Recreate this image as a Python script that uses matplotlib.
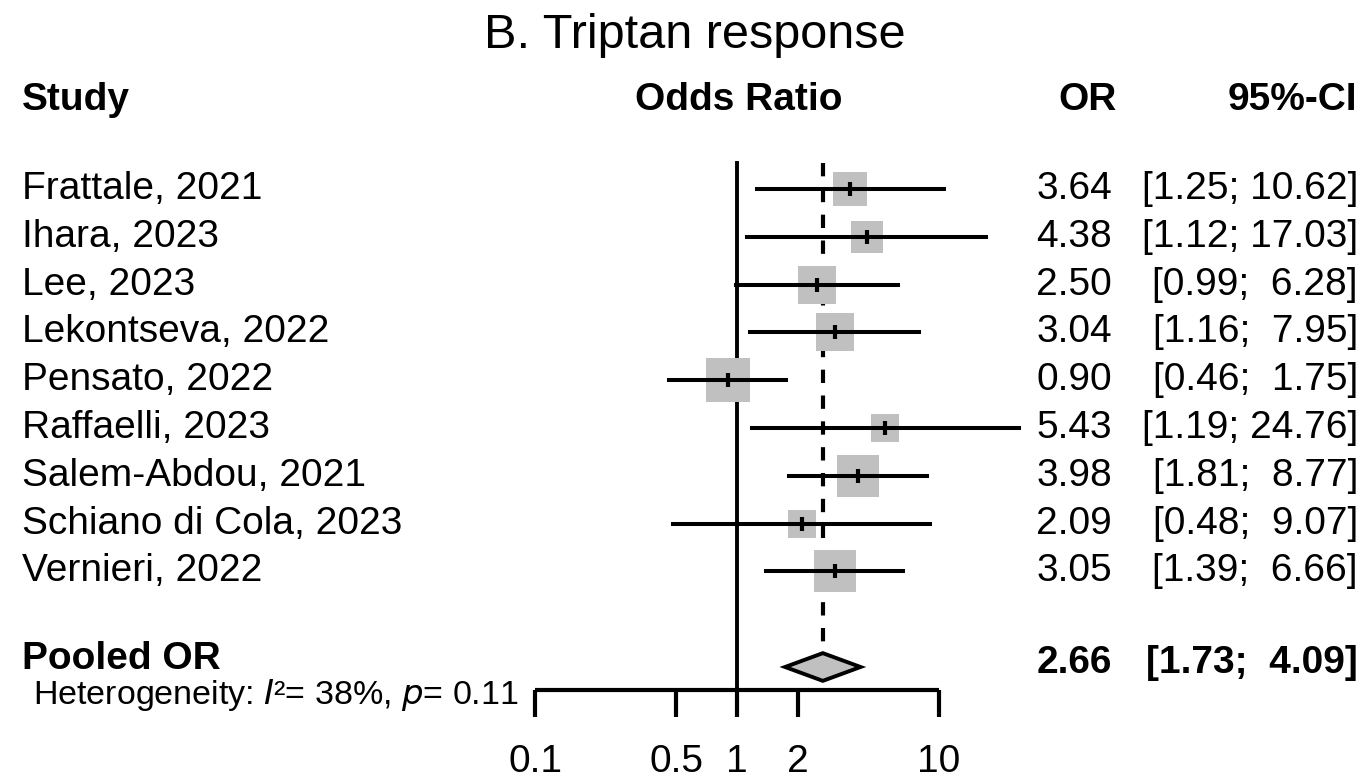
import numpy as np
import matplotlib.pyplot as plt
from matplotlib.patches import Polygon
from matplotlib.transforms import blended_transform_factory

plt.rcParams['font.family'] = ['Liberation Sans', 'DejaVu Sans']

# dane
studies = ["Frattale, 2021", "Ihara, 2023", "Lee, 2023", "Lekontseva, 2022",
           "Pensato, 2022", "Raffaelli, 2023", "Salem-Abdou, 2021",
           "Schiano di Cola, 2023", "Vernieri, 2022"]
odds = [3.64, 4.38, 2.50, 3.04, 0.90, 5.43, 3.98, 2.09, 3.05]
lower = [1.25, 1.12, 0.99, 1.16, 0.46, 1.19, 1.81, 0.48, 1.39]
upper = [10.62, 17.03, 6.28, 7.95, 1.75, 24.76, 8.77, 9.07, 6.66]
weights = [9.9, 8.2, 11.7, 11.7, 15.8, 6.7, 15.1, 6.7, 14.3]
pooled = 2.66
pooled_lo = 1.73
pooled_hi = 4.09
tick_vals = [0.1, 0.5, 1, 2, 10]
tick_labels = ["0.1", "0.5", "1", "2", "10"]

W, H = 1366, 782
fig = plt.figure(figsize=(W / 100, H / 100), dpi=100)
ax = fig.add_axes([0, 0, 1, 1])
ax.set_xscale('log')
# 1 -> 737 px, 202 px na dekade
ax.set_xlim(10 ** (-737 / 202), 10 ** ((W - 737) / 202))
row_h = 47.8
ax.set_ylim((H - 189) / row_h, -189 / row_h)
ax.axis('off')

tr = blended_transform_factory(fig.transFigure, ax.transData)
fx = lambda px: px / W

fs = 28
grey = '#c0c0c0'
rows = np.arange(len(studies))
pooled_row = len(studies) + 1
axis_row = pooled_row + 0.48

# tytul i naglowki
ax.text(fx(695), -3.22, "B. Triptan response", transform=tr, ha='center',
        va='center', fontsize=35)
ax.text(fx(22), -1.86, "Study", transform=tr, ha='left', va='center',
        fontsize=fs, fontweight='bold')
ax.text(fx(739), -1.86, "Odds Ratio", transform=tr, ha='center', va='center',
        fontsize=fs, fontweight='bold')
ax.text(fx(1117), -1.86, "OR", transform=tr, ha='right', va='center',
        fontsize=fs, fontweight='bold')
ax.text(fx(1357), -1.86, "95%-CI", transform=tr, ha='right', va='center',
        fontsize=fs, fontweight='bold')

# linie odniesienia
ax.plot([1, 1], [-0.55, axis_row], color='black', lw=2.8, zorder=2)
ax.plot([pooled, pooled], [-0.55, pooled_row - 0.3], color='black', lw=3,
        linestyle=(0, (3.2, 3.0)), zorder=2)

# badania
width_k = 11.0
for i in rows:
    ax.plot([lower[i], upper[i]], [i, i], color='black', lw=2.9, zorder=4)
    side = width_k * np.sqrt(weights[i]) * 0.72
    ax.scatter([odds[i]], [i], marker='s', s=side ** 2, color=grey,
               linewidths=0, zorder=3)
    ax.scatter([odds[i]], [i], marker='|', s=110, color='black',
               linewidths=3, zorder=5)
    ax.text(fx(22), i, studies[i], transform=tr, ha='left', va='center',
            fontsize=fs)
    ax.text(fx(1112), i, f"{odds[i]:.2f}", transform=tr, ha='right',
            va='center', fontsize=fs)
    sep = ";  " if upper[i] < 10 else "; "
    ci = f"[{lower[i]:.2f}{sep}{upper[i]:.2f}]"
    ax.text(fx(1358), i, ci, transform=tr, ha='right', va='center',
            fontsize=fs)

# wynik laczny
diamond = Polygon([[pooled_lo, pooled_row], [pooled, pooled_row - 0.29],
                   [pooled_hi, pooled_row], [pooled, pooled_row + 0.29]],
                  closed=True, facecolor=grey, edgecolor='black', lw=2.8,
                  zorder=4)
ax.add_patch(diamond)
ax.text(fx(22), pooled_row - 0.17, "Pooled OR", transform=tr, ha='left',
        va='center', fontsize=fs, fontweight='bold')
ax.text(fx(1112), pooled_row - 0.08, f"{pooled:.2f}", transform=tr,
        ha='right', va='center', fontsize=fs, fontweight='bold')
ax.text(fx(1358), pooled_row - 0.08, f"[{pooled_lo:.2f};  {pooled_hi:.2f}]",
        transform=tr, ha='right', va='center', fontsize=fs, fontweight='bold')
ax.text(fx(519), axis_row + 0.1,
        "Heterogeneity: $I$\u00b2= 38%, $p$= 0.11", transform=tr, ha='right',
        va='center', fontsize=24.5)

# os x
ax.plot([tick_vals[0], tick_vals[-1]], [axis_row, axis_row], color='black',
        lw=3, solid_capstyle='butt', zorder=2)
for v, lab in zip(tick_vals, tick_labels):
    ax.plot([v, v], [axis_row, axis_row + 0.56], color='black', lw=3,
            solid_capstyle='butt')
    ax.text(v, axis_row + 1.5, lab, ha='center', va='center', fontsize=fs)

fig.savefig("out.png", dpi=100)
